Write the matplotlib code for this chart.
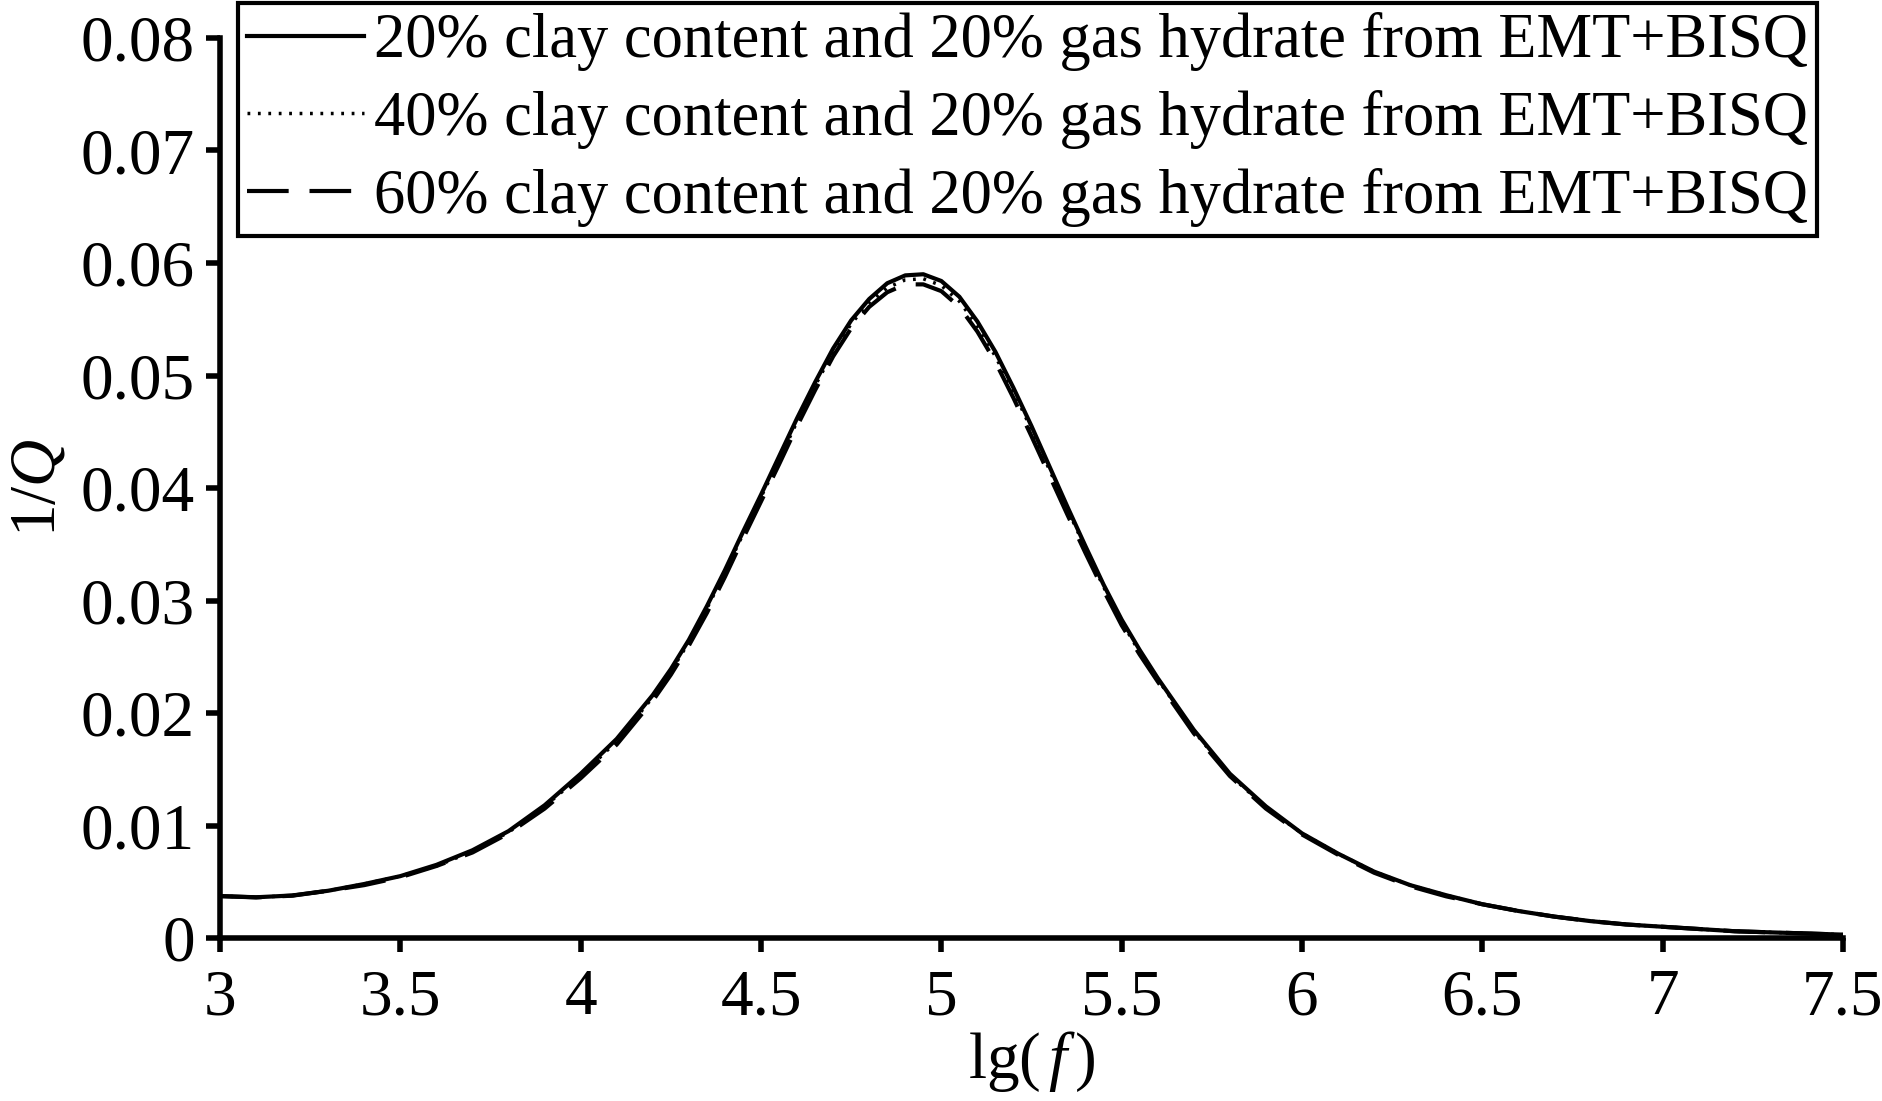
import matplotlib
matplotlib.use("Agg")
import matplotlib.pyplot as plt

# lg(f) sample points (denser around the peak)
lg_f = [3.0, 3.1, 3.2, 3.3, 3.4, 3.5, 3.6, 3.7, 3.8, 3.9,
        4.0, 4.1, 4.2, 4.25, 4.3, 4.35, 4.4, 4.45, 4.5, 4.55, 4.6,
        4.65, 4.7, 4.75, 4.8, 4.85, 4.9, 4.95, 5.0, 5.05, 5.1,
        5.15, 5.2, 5.25, 5.3, 5.35, 5.4, 5.45, 5.5, 5.55, 5.6,
        5.7, 5.8, 5.9, 6.0, 6.1, 6.2, 6.3, 6.4, 6.5, 6.6,
        6.7, 6.8, 6.9, 7.0, 7.1, 7.2, 7.3, 7.4, 7.5]

q_clay20 = [0.00373, 0.00362, 0.00378, 0.0042, 0.0048, 0.0055, 0.0065, 0.0078, 0.0095, 0.0118,
            0.0146, 0.0177, 0.0216, 0.0239, 0.0265, 0.0295, 0.0327, 0.0361, 0.0394, 0.0428, 0.0462,
            0.0494, 0.0524, 0.0549, 0.0568, 0.0582, 0.0589, 0.0590, 0.0584, 0.0570, 0.0548,
            0.0521, 0.0489, 0.0455, 0.0419, 0.0383, 0.0348, 0.0314, 0.0283, 0.0256, 0.0231,
            0.0185, 0.0146, 0.0117, 0.0093, 0.0075, 0.0059, 0.0047, 0.0038, 0.0030, 0.0024,
            0.0019, 0.0015, 0.0012, 0.0010, 0.0008, 0.0006, 0.0005, 0.0004, 0.0003]

q_clay40 = [0.00373, 0.00362, 0.00377, 0.0042, 0.0048, 0.0055, 0.0064, 0.0077, 0.0094, 0.0117,
            0.0144, 0.0175, 0.0214, 0.0237, 0.0263, 0.0293, 0.0325, 0.0359, 0.0392, 0.0425, 0.0459,
            0.0491, 0.0521, 0.0546, 0.0565, 0.0578, 0.0585, 0.0586, 0.0580, 0.0566, 0.0544,
            0.0517, 0.0486, 0.0452, 0.0416, 0.0381, 0.0346, 0.0312, 0.0281, 0.0254, 0.0230,
            0.0184, 0.0145, 0.0116, 0.0093, 0.0075, 0.0059, 0.0047, 0.0038, 0.0030, 0.0024,
            0.0019, 0.0015, 0.0012, 0.0010, 0.0008, 0.0006, 0.0005, 0.0004, 0.0003]

q_clay60 = [0.00372, 0.00361, 0.00376, 0.0042, 0.0047, 0.0054, 0.0064, 0.0076, 0.0093, 0.0115,
            0.0142, 0.0172, 0.0211, 0.0234, 0.0260, 0.0289, 0.0321, 0.0355, 0.0388, 0.0421, 0.0455,
            0.0487, 0.0517, 0.0542, 0.0561, 0.0574, 0.0581, 0.0581, 0.0575, 0.0561, 0.0539,
            0.0512, 0.0480, 0.0446, 0.0411, 0.0376, 0.0342, 0.0309, 0.0278, 0.0252, 0.0228,
            0.0182, 0.0144, 0.0115, 0.0092, 0.0074, 0.0058, 0.0046, 0.0037, 0.0030, 0.0024,
            0.0019, 0.0015, 0.0012, 0.0010, 0.0008, 0.0006, 0.0005, 0.0004, 0.0003]

labels = ["20% clay content and 20% gas hydrate from EMT+BISQ",
          "40% clay content and 20% gas hydrate from EMT+BISQ",
          "60% clay content and 20% gas hydrate from EMT+BISQ"]

x_ticks = [3, 3.5, 4, 4.5, 5, 5.5, 6, 6.5, 7, 7.5]
x_ticklabels = ["3", "3.5", "4", "4.5", "5", "5.5", "6", "6.5", "7", "7.5"]
y_ticks = [0, 0.01, 0.02, 0.03, 0.04, 0.05, 0.06, 0.07, 0.08]
y_ticklabels = ["0", "0.01", "0.02", "0.03", "0.04", "0.05", "0.06", "0.07", "0.08"]

plt.rcParams["font.family"] = ["Liberation Serif", "DejaVu Serif"]
plt.rcParams["font.size"] = 47
plt.rcParams["mathtext.fontset"] = "custom"
plt.rcParams["mathtext.rm"] = "Liberation Serif"
plt.rcParams["mathtext.it"] = "Liberation Serif:italic"

fig = plt.figure(figsize=(18.83, 11.01), dpi=100)
ax = fig.add_axes([220 / 1883, 1 - 938 / 1101, (1843 - 220) / 1883, 900 / 1101])

ax.plot(lg_f, q_clay20, color="black", lw=3, ls="-", label=labels[0])
ax.plot(lg_f, q_clay40, color="black", lw=2.5, ls=(0, (0.8, 2.2)), label=labels[1])
ax.plot(lg_f, q_clay60, color="black", lw=3, ls=(0, (10, 5)), label=labels[2])

ax.set_xlim(3, 7.5)
ax.set_ylim(0, 0.08)
ax.set_xticks(x_ticks)
ax.set_xticklabels(x_ticklabels)
ax.set_yticks(y_ticks)
ax.set_yticklabels(y_ticklabels)
ax.tick_params(direction="out", length=10, width=4)
ax.tick_params(axis="x", pad=12)
ax.tick_params(axis="y", pad=8)

for side in ["top", "right"]:
    ax.spines[side].set_visible(False)
for side in ["left", "bottom"]:
    ax.spines[side].set_linewidth(4)

ax.set_xlabel(r"lg($\,f\,$)", labelpad=1)
ax.set_ylabel(r"1/$Q$", labelpad=9)

leg = ax.legend(loc="upper left", bbox_to_anchor=(238 / 1883, 1 - 3 / 1101),
                bbox_transform=fig.transFigure, borderaxespad=0, fontsize=45,
                handlelength=1.87, handletextpad=0.15, labelspacing=0.3,
                borderpad=0.15, fancybox=False, framealpha=1)
leg.get_frame().set_edgecolor("black")
leg.get_frame().set_linewidth(3)

fig.savefig("out.png", dpi=100)
